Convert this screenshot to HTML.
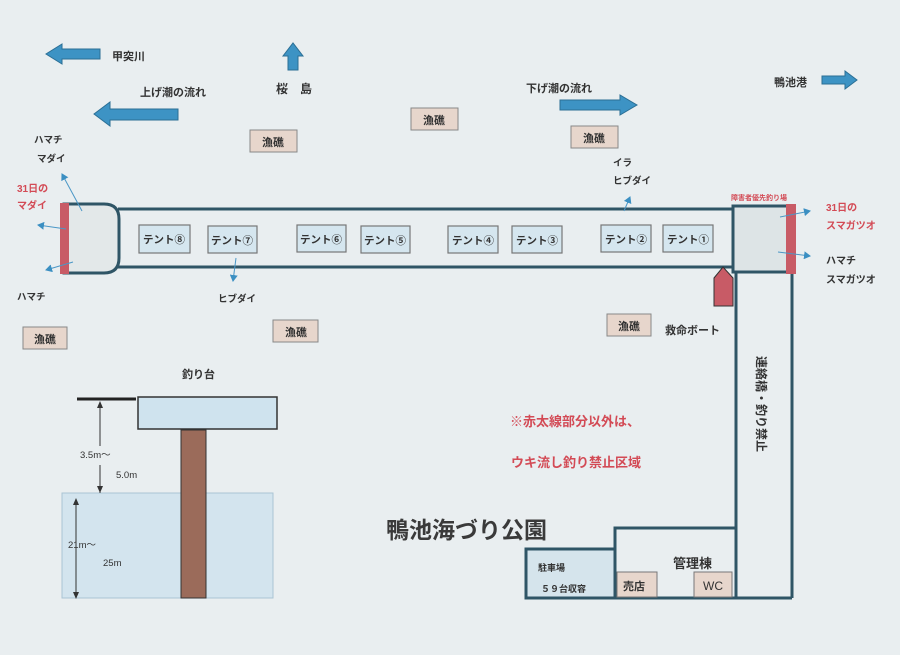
<!DOCTYPE html>
<html><head><meta charset="utf-8"><style>
html,body{margin:0;padding:0;background:#e9eef0;}
svg{display:block}
text{font-family:"Liberation Sans","Noto Sans CJK JP",sans-serif;font-weight:bold;fill:#333;}
</style></head><body>
<svg width="900" height="655" viewBox="0 0 900 655" xmlns="http://www.w3.org/2000/svg">
<defs>
<marker id="ah" markerWidth="8" markerHeight="8" refX="6" refY="4" orient="auto"><path d="M0,0 L7,4 L0,8 z" fill="#3b8fc2"/></marker>
</defs>
<rect width="900" height="655" fill="#e9eef0"/>
<!-- big arrows -->
<g fill="#3d93c4" stroke="#2b6f95" stroke-width="1">
<path d="M100,49 L100,59 L62,59 L62,64 L46,54 L62,44 L62,49 Z"/>
<path d="M178,109 L178,120 L110,120 L110,126 L94,114 L110,102 L110,109 Z"/>
<path d="M288,70 L298,70 L298,56 L303,56 L293,43 L283,56 L288,56 Z"/>
<path d="M560,100 L620,100 L620,95 L637,105 L620,115 L620,110 L560,110 Z"/>
<path d="M822,76 L845,76 L845,71 L857,80 L845,89 L845,84 L822,84 Z"/>
</g>
<text x="112" y="60" font-size="11">甲突川</text>
<text x="140" y="96" font-size="11">上げ潮の流れ</text>
<text x="276" y="93" font-size="12">桜　島</text>
<text x="526" y="92" font-size="11">下げ潮の流れ</text>
<text x="774" y="86" font-size="11">鴨池港</text>
<!-- rocks -->
<g fill="#e7d6cc" stroke="#888" stroke-width="1">
<rect x="250" y="130" width="47" height="22"/><rect x="411" y="108" width="47" height="22"/>
<rect x="571" y="126" width="47" height="22"/><rect x="23" y="327" width="44" height="22"/>
<rect x="273" y="320" width="45" height="22"/><rect x="607" y="314" width="44" height="22"/>
</g>
<g font-size="11" text-anchor="middle">
<text x="273" y="146">漁礁</text><text x="434" y="124">漁礁</text><text x="594" y="142">漁礁</text>
<text x="45" y="343">漁礁</text><text x="296" y="336">漁礁</text><text x="629" y="330">漁礁</text>
</g>
<!-- pier -->
<g stroke="#2f5566" stroke-width="3" fill="#e6ebec">
<path d="M118,209 L733,209 M118,267 L733,267" fill="none"/>
<path d="M64,204 L104,204 Q119,204 119,219 L119,258 Q119,273 104,273 L64,273 Z" fill="#e3e8e9"/>
<rect x="733" y="206" width="59" height="66" fill="#dde4e6"/>
<path d="M736,273 L736,598 M792,273 L792,598 M736,598 L792,598" fill="none"/>
<path d="M736,537 L736,528 L615,528 L615,598 L736,598 L736,586" fill="none"/>
<rect x="526" y="549" width="89" height="49" fill="#d5e4ec"/>
</g>
<rect x="60" y="203" width="9" height="71" fill="#c85b66"/>
<rect x="786" y="204" width="10" height="70" fill="#c85b66"/>
<path d="M714,278 L723,267 L733,278 L733,306 L714,306 Z" fill="#c85b66" stroke="#333" stroke-width="1"/>
<!-- tents -->
<g fill="#d5e6ef" stroke="#777" stroke-width="1.2">
<rect x="139" y="225" width="51" height="28"/><rect x="208" y="226" width="49" height="27"/>
<rect x="297" y="225" width="49" height="27"/><rect x="361" y="226" width="49" height="27"/>
<rect x="448" y="226" width="50" height="27"/><rect x="512" y="226" width="50" height="27"/>
<rect x="601" y="225" width="50" height="27"/><rect x="663" y="225" width="50" height="27"/>
</g>
<g font-size="10.5" text-anchor="middle">
<text x="164" y="243">テント⑧</text><text x="232" y="244">テント⑦</text><text x="321" y="243">テント⑥</text><text x="385" y="244">テント⑤</text>
<text x="473" y="244">テント④</text><text x="537" y="244">テント③</text><text x="626" y="243">テント②</text><text x="688" y="243">テント①</text>
</g>
<!-- small arrows -->
<g stroke="#4b97c6" stroke-width="1" marker-end="url(#ah)" fill="none">
<line x1="82" y1="211" x2="62" y2="174"/><line x1="66" y1="229" x2="38" y2="225"/>
<line x1="73" y1="262" x2="46" y2="270"/><line x1="236" y1="258" x2="233" y2="281"/>
<line x1="624" y1="211" x2="630" y2="197"/><line x1="780" y1="217" x2="810" y2="211"/>
<line x1="778" y1="252" x2="810" y2="256"/>
</g>
<text x="34" y="143" font-size="9.5">ハマチ</text><text x="37" y="162" font-size="9.5">マダイ</text>
<text x="17" y="192" font-size="10" style="fill:#d34a55">31日の</text><text x="17" y="209" font-size="10" style="fill:#d34a55">マダイ</text>
<text x="17" y="300" font-size="9.5">ハマチ</text>
<text x="218" y="302" font-size="9.5">ヒブダイ</text>
<text x="613" y="166" font-size="9.5">イラ</text><text x="613" y="184" font-size="9.5">ヒブダイ</text>
<text x="731" y="200" font-size="7" style="fill:#d34a55">障害者優先釣り場</text>
<text x="826" y="211" font-size="10" style="fill:#d34a55">31日の</text><text x="826" y="229" font-size="10" style="fill:#d34a55">スマガツオ</text>
<text x="826" y="264" font-size="10">ハマチ</text><text x="826" y="283" font-size="10">スマガツオ</text>
<text x="665" y="334" font-size="11">救命ボート</text>
<text font-size="12" transform="translate(757,356) rotate(90)">連絡橋・釣り禁止</text>
<text x="510" y="426" font-size="13" style="fill:#d34a55">※赤太線部分以外は、</text>
<text x="511" y="467" font-size="13" style="fill:#d34a55">ウキ流し釣り禁止区域</text>
<text x="386" y="538" font-size="23" style="fill:#3a3a3a">鴨池海づり公園</text>
<text x="538" y="571" font-size="9">駐車場</text><text x="541" y="592" font-size="9">５９台収容</text>
<text x="673" y="568" font-size="13">管理棟</text>
<g fill="#e7d6cc" stroke="#777"><rect x="617" y="572" width="40" height="25"/><rect x="694" y="572" width="38" height="25"/></g>
<text x="623" y="590" font-size="11">売店</text><text x="703" y="590" font-size="12" style="font-weight:normal">WC</text>
<!-- fishing platform -->
<text x="182" y="378" font-size="11">釣り台</text>
<line x1="77" y1="399" x2="136" y2="399" stroke="#222" stroke-width="3"/>
<rect x="62" y="493" width="211" height="105" fill="#d3e4ee" stroke="#aac4d4"/>
<rect x="138" y="397" width="139" height="32" fill="#cfe3ee" stroke="#333" stroke-width="1.5"/>
<rect x="181" y="430" width="25" height="168" fill="#9b6b5a" stroke="#333"/>
<g stroke="#333" stroke-width="1" marker-end="url(#ah2)">
<line x1="100" y1="403" x2="100" y2="446"/><line x1="100" y1="465" x2="100" y2="493"/>
<line x1="76" y1="500" x2="76" y2="597"/>
</g>
<g fill="#333"><path d="M97,408 L100,401 L103,408Z"/><path d="M97,486 L100,493 L103,486Z"/><path d="M73,505 L76,498 L79,505Z"/><path d="M73,592 L76,599 L79,592Z"/></g>
<text x="80" y="458" font-size="9.5" style="font-weight:normal">3.5m～</text>
<text x="116" y="478" font-size="9.5" style="font-weight:normal">5.0m</text>
<text x="68" y="548" font-size="9.5" style="font-weight:normal">21m～</text>
<text x="103" y="566" font-size="9.5" style="font-weight:normal">25m</text>
</svg>
</body></html>
